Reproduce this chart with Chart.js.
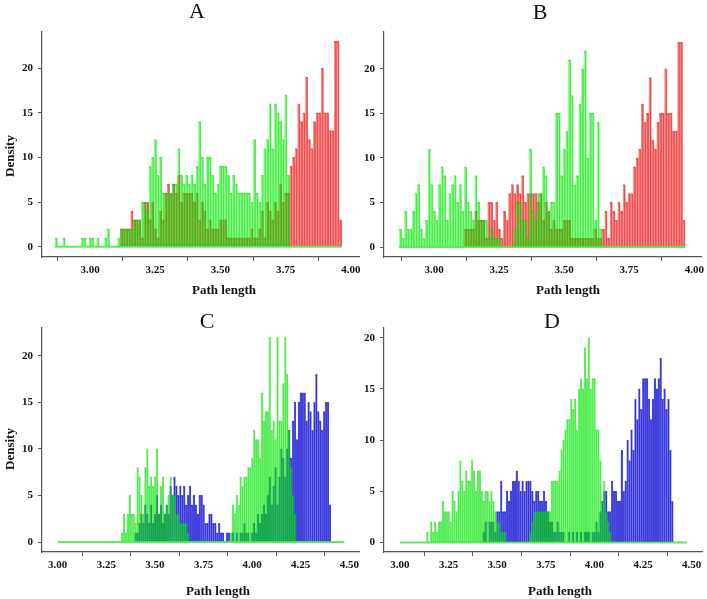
<!DOCTYPE html>
<html lang="en">
<head>
<meta charset="UTF-8">
<title>Path length histograms</title>
<script src="https://cdn.jsdelivr.net/npm/chart.js"></script>
<style>
  body { margin: 0; background: #fff; }
  #page { position: relative; width: 707px; height: 599px; overflow: hidden; background: #fff; }
  canvas { position: absolute; }
  .txt { position: absolute; transform: translate(-50%, -50%); font-family: "Liberation Serif", "Times New Roman", serif; color: #111; white-space: nowrap; }
  .letter { font-size: 22px; }
  .axis { font-size: 13px; font-weight: bold; }
  .rot { transform: translate(-50%, -50%) rotate(-90deg); }
</style>
</head>
<body>
<div id="page">
  <canvas id="chartA" width="365" height="290" style="left:0;top:0"></canvas>
  <canvas id="chartB" width="365" height="290" style="left:342px;top:0"></canvas>
  <canvas id="chartC" width="365" height="309" style="left:0;top:290px"></canvas>
  <canvas id="chartD" width="365" height="309" style="left:342px;top:290px"></canvas>

  <div class="txt letter" style="left:197px;top:11px">A</div>
  <div class="txt letter" style="left:540px;top:12px">B</div>
  <div class="txt letter" style="left:207px;top:321px">C</div>
  <div class="txt letter" style="left:552px;top:321px">D</div>

  <div class="txt axis rot" style="left:10px;top:156px">Density</div>
  <div class="txt axis rot" style="left:10px;top:449px">Density</div>
  <div class="txt axis" style="left:224px;top:290px">Path length</div>
  <div class="txt axis" style="left:568px;top:290px">Path length</div>
  <div class="txt axis" style="left:218px;top:591px">Path length</div>
  <div class="txt axis" style="left:560px;top:591px">Path length</div>
</div>

<script>
// histogram bins are 0.01 wide; each series is given as first bin + counts
const binWidth = 0.01;

// tick labels
const xTicksTop = [3.00, 3.25, 3.50, 3.75, 4.00];
const xTicksBottom = [3.00, 3.25, 3.50, 3.75, 4.00, 4.25, 4.50];
const yTicks = [0, 5, 10, 15, 20];

// panel A
const aGreenStart = 2.87;
const aGreen = [1,0,0,
  1,0,0,0,0,0,0,1,1,0,
  1,1,0,1,0,0,1,2,0,0,
  0,1,2,2,2,2,2,3,3,3,
  5,5,4,9,10,12,8,10,6,6,
  6,6,7,7,11,8,7,8,7,8,
  7,9,14,10,7,10,10,8,6,7,
  9,9,9,8,6,8,7,6,6,6,
  6,6,5,12,6,5,8,11,12,16,
  11,16,15,14,12,17,8];

// red series (same in A and B)
const redStart = 3.12;
const redCounts = [2,2,2,2,4,3,3,3,1,5,
  5,3,5,2,1,4,3,6,7,6,
  7,6,8,5,6,6,6,6,5,6,
  3,5,4,2,3,2,2,2,3,3,
  3,1,1,1,1,1,1,1,1,1,
  2,1,1,2,4,1,5,4,3,5,
  4,7,5,6,6,9,10,11,16,14,
  15,19,12,11,14,15,15,20,15,15,
  13,13,23,23,3];

// panel B
const bGreenStart = 2.87;
const bGreen = [2,1,4,
  2,2,4,6,7,2,1,3,11,7,
  4,3,7,9,8,3,6,7,8,5,
  7,4,9,5,4,3,8,5,3,3,
  3,1,2,1,1,1,0,0,0,0,
  0,2,5,5,3,3,1,11,4,3,
  6,6,9,8,4,5,5,15,15,8,
  11,13,21,17,7,8,16,20,22,10,
  15,15,3,14,2];

// panel C
const cGreenStart = 3.33;
const cGreen = [1,3,1,3,5,3,3,
  2,8,7,5,3,8,10,6,7,6,
  7,10,3,6,7,3,4,5,7,5,
  5,3,3,2,2,2,2,1,0,0,
  0,0,0,0,0,0,0,0,0,0,
  0,0,0,0,0,0,0,0,0,1,
  4,3,5,4,7,6,7,7,8,8,
  9,12,11,11,9,16,13,14,14,22,
  12,13,11,22,13,13,17,22,18,12,
  8,5,3];
const cBlueStart = 3.40;
const cBlue = [1,1,2,3,2,4,3,2,4,2,
  3,5,3,4,2,3,4,3,6,5,
  7,6,5,6,5,6,4,5,6,4,
  5,4,3,5,5,4,2,2,3,3,
  2,2,1,2,1,1,0,1,1,0,
  1,0,1,0,1,1,2,1,1,0,
  1,2,1,3,2,3,4,3,5,7,
  4,6,8,4,7,10,9,7,10,12,
  9,13,15,11,15,16,16,16,13,15,
  14,12,15,18,14,13,12,14,15,15,
  4];

// panel D
const dGreenStart = 3.14;
const dGreen = [1,0,2,1,2,1,
  2,2,4,3,3,3,2,5,4,3,
  5,8,6,5,7,6,6,8,7,5,
  7,7,5,4,5,5,4,5,4,3,
  2,2,1,1,1,0,0,0,0,0,
  0,0,0,0,0,0,0,1,2,3,
  3,3,3,3,3,3,3,3,6,6,
  6,6,7,9,10,11,12,12,14,13,
  14,11,15,16,15,19,16,20,15,16,
  16,11,11,8,4,6,3,2,1];
const dBlueStart = 3.43;
const dBlue = [1,2,0,2,2,2,1,
  3,3,6,3,3,5,4,5,6,6,
  7,6,5,6,5,6,6,6,5,4,
  5,5,4,4,5,4,3,2,2,1,
  1,2,1,1,1,0,0,1,0,1,
  0,1,0,1,0,1,1,1,0,1,
  1,2,1,3,4,5,5,3,3,6,
  5,5,4,4,9,5,6,10,8,11,
  9,14,12,15,13,16,16,16,14,12,
  14,16,15,16,18,14,15,13,14,9,
  4];

// zero line under the green histogram
const baseTop = [2.865, 3.965];
const baseBottom = [3.00, 4.475];

const greenFill = 'rgba(0,255,0,0.45)';
const greenLine = 'rgba(0,205,0,0.6)';
const redFill = 'rgba(255,0,0,0.45)';
const redLine = 'rgba(215,0,0,0.6)';
const blueFill = 'rgba(0,0,255,0.55)';
const blueLine = 'rgba(0,0,170,0.7)';

const tickFont = { family: '"Liberation Serif", "Times New Roman", serif', size: 11, weight: 'bold' };

function toPoints(start, counts) {
    return counts.map((v, i) => ({ x: Math.round((start + i * binWidth) * 100) / 100, y: v }));
}

function barSet(start, counts, fill, line, order) {
    return {
        data: toPoints(start, counts),
        backgroundColor: fill,
        borderColor: line,
        borderWidth: { top: 1, right: 1, bottom: 0, left: 0 },
        barPercentage: 1,
        categoryPercentage: 1,
        grouped: false,
        order: order
    };
}

function makeChart(id, p) {
    new Chart(document.getElementById(id), {
        type: 'bar',
        data: {
            datasets: [
                {
                    type: 'line',
                    data: [{ x: p.base[0], y: 0 }, { x: p.base[1], y: 0 }],
                    borderColor: 'rgba(40,230,40,0.75)',
                    borderWidth: 2,
                    pointRadius: 0,
                    order: 0
                },
                barSet(p.greenStart, p.green, greenFill, greenLine, 1),
                barSet(p.otherStart, p.other, p.otherFill, p.otherLine, 2)
            ]
        },
        options: {
            responsive: false,
            animation: false,
            layout: { padding: { left: 0, top: p.top, right: p.right, bottom: 0 } },
            plugins: { legend: { display: false }, tooltip: { enabled: false } },
            scales: {
                x: {
                    type: 'linear',
                    min: p.xMin,
                    max: p.xMax,
                    offset: false,
                    afterBuildTicks: s => { s.ticks = p.xTicks.map(v => ({ value: v })); },
                    afterFit: s => { s.height = p.xAxisH; },
                    ticks: { callback: v => Number(v).toFixed(2), font: tickFont, color: '#111', padding: 3, maxRotation: 0, autoSkip: false },
                    grid: { drawOnChartArea: false, drawTicks: true, tickLength: 4, color: '#555' },
                    border: { display: true, color: '#555', width: 1.2 }
                },
                y: {
                    min: p.yMin,
                    max: p.yMax,
                    afterBuildTicks: s => { s.ticks = yTicks.map(v => ({ value: v })); },
                    afterFit: s => { s.width = 42; },
                    ticks: { font: tickFont, color: '#111', padding: 5 },
                    grid: { drawOnChartArea: false, drawTicks: true, tickLength: 4, color: '#555' },
                    border: { display: true, color: '#555', width: 1.2 }
                }
            }
        }
    });
}

makeChart('chartA', {
    greenStart: aGreenStart, green: aGreen,
    otherStart: redStart, other: redCounts, otherFill: redFill, otherLine: redLine,
    base: baseTop, xTicks: xTicksTop,
    xMin: 2.816, xMax: 4.031, yMin: -1.15, yMax: 24.04,
    top: 32, right: 6, xAxisH: 33
});
makeChart('chartB', {
    greenStart: bGreenStart, green: bGreen,
    otherStart: redStart, other: redCounts, otherFill: redFill, otherLine: redLine,
    base: baseTop, xTicks: xTicksTop,
    xMin: 2.807, xMax: 4.027, yMin: -1.12, yMax: 24.12,
    top: 32, right: 5, xAxisH: 33
});
makeChart('chartC', {
    greenStart: cGreenStart, green: cGreen,
    otherStart: cBlueStart, other: cBlue, otherFill: blueFill, otherLine: blueLine,
    base: baseBottom, xTicks: xTicksBottom,
    xMin: 2.919, xMax: 4.55, yMin: -1.07, yMax: 22.97,
    top: 38, right: 6, xAxisH: 47
});
makeChart('chartD', {
    greenStart: dGreenStart, green: dGreen,
    otherStart: dBlueStart, other: dBlue, otherFill: blueFill, otherLine: blueLine,
    base: baseBottom, xTicks: xTicksBottom,
    xMin: 2.918, xMax: 4.553, yMin: -0.94, yMax: 20.95,
    top: 38, right: 5, xAxisH: 47
});
</script>
</body>
</html>
